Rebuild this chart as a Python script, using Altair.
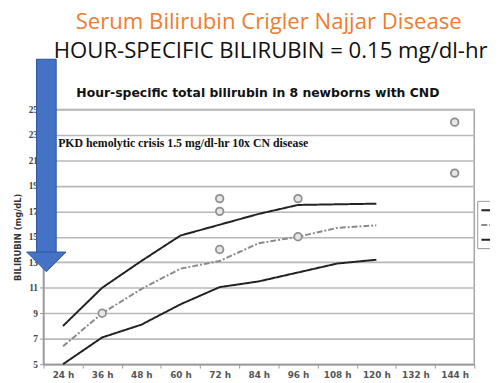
import altair as alt
import pandas as pd

# ---------------- data ----------------
hours = ["24 h", "36 h", "48 h", "60 h", "72 h", "84 h", "96 h", "108 h", "120 h", "132 h", "144 h"]
line_hours = hours[:9]
upper = [8.0, 11.0, 13.1, 15.1, 15.95, 16.8, 17.5, 17.55, 17.6]
middle = [6.4, 9.0, 10.9, 12.5, 13.1, 14.5, 15.0, 15.7, 15.9]
lower = [5.0, 7.1, 8.1, 9.7, 11.05, 11.5, 12.2, 12.9, 13.2]
series_names = ["95th percentile", "50th percentile", "5th percentile"]

obs_hours = ["36 h", "72 h", "72 h", "72 h", "96 h", "96 h", "144 h", "144 h"]
obs_values = [9, 18, 17, 14, 18, 15, 24, 20]

y_ticks = [5, 7, 9, 11, 13, 15, 17, 19, 21, 23, 25]

title_1 = "Serum Bilirubin Crigler Najjar Disease"
title_2 = "HOUR-SPECIFIC BILIRUBIN = 0.15 mg/dl-hr"
chart_title = "Hour-specific total bilirubin in 8 newborns with CND"
note = "PKD hemolytic crisis 1.5 mg/dl-hr 10x CN disease"
y_title = "BILIRUBIN (mg/dL)"

rows = []
for name, vals in zip(series_names, [upper, middle, lower]):
    for h, v in zip(line_hours, vals):
        rows.append({"hour": h, "value": v, "series": name})
lines_df = pd.DataFrame(rows)
obs_df = pd.DataFrame({"hour": obs_hours, "value": obs_values})

W, H = 438, 259

x_enc = alt.X(
    "hour:O",
    sort=hours,
    bandPosition=0.5,
    scale=alt.Scale(domain=hours, type="band", paddingInner=0, paddingOuter=0),
    axis=alt.Axis(
        title=None, labelAngle=0, tickBand="extent", grid=False,
        domainColor="#9a9a9a", domainWidth=1.5, tickColor="#9a9a9a", tickSize=4,
        labelFont="DejaVu Sans", labelFontSize=9, labelColor="#555",
        labelFontWeight="bold", labelPadding=3, labelOverlap=False,
    ),
)
y_scale = alt.Scale(domain=[5, 25], nice=False, zero=False)
y_enc = alt.Y(
    "value:Q",
    scale=y_scale,
    axis=alt.Axis(
        values=y_ticks, tickCount=11, grid=True, gridColor="#b8b8b8", gridWidth=1.6,
        domainColor="#9a9a9a", domainWidth=1.5, tickColor="#9a9a9a", tickSize=4,
        labelFont="Liberation Serif", labelFontSize=9.5, labelColor="#444",
        labelFontWeight="bold", labelPadding=2, labelOverlap=False,
        title=y_title, titleFont="DejaVu Sans", titleFontSize=8.5,
        titleFontWeight="bold", titleColor="#333", titlePadding=6,
    ),
)

legend_cfg = dict(
    title=None, orient="none", legendX=441, legendY=93,
    symbolType="stroke", symbolStrokeWidth=2, symbolSize=110,
    labelFontSize=9, labelExpr="''", rowPadding=3, padding=3,
    strokeColor="#999", fillColor="white",
)

lines = alt.Chart(lines_df).mark_line(strokeWidth=2).encode(
    x=x_enc,
    y=y_enc,
    color=alt.Color(
        "series:N",
        scale=alt.Scale(domain=series_names, range=["#222222", "#8a8a8a", "#222222"]),
        legend=alt.Legend(**legend_cfg),
    ),
    strokeDash=alt.StrokeDash(
        "series:N",
        scale=alt.Scale(domain=series_names, range=[[1, 0], [6, 2, 2, 2], [1, 0]]),
        legend=alt.Legend(**legend_cfg),
    ),
)

points = alt.Chart(obs_df).mark_point(
    shape="circle", size=60, filled=False, stroke="#8f8f8f", strokeWidth=1.8,
    fill="#e6e6e6", fillOpacity=1, opacity=1,
).encode(x=x_enc, y=y_enc)

def label(text, x, y, **kw):
    return alt.Chart(pd.DataFrame({"t": [text]})).mark_text(**kw).encode(
        text="t:N", x=alt.value(x), y=alt.value(y)
    )

t1 = label(title_1, 229, -82, font="Open Sans", fontSize=22.5, color="#ED7D31",
           align="center", baseline="alphabetic")
t2 = label(title_2, 231, -52, font="Open Sans", fontSize=22.5, color="#111111",
           align="center", baseline="alphabetic")
t3 = label(chart_title, 218, -17, font="DejaVu Sans", fontSize=12.6, fontWeight="bold",
           color="#111111", align="center", baseline="middle")
t4 = label(note, 15, 34, font="Liberation Serif", fontSize=12, fontWeight="bold",
           color="#111111", align="left", baseline="middle")

shaft = alt.Chart(pd.DataFrame({"a": [0]})).mark_rect(
    color="#4472C4", stroke="#2F5597", strokeWidth=1
).encode(x=alt.value(-7), x2=alt.value(13), y=alt.value(-51), y2=alt.value(146))

head = alt.Chart(pd.DataFrame({"a": [0]})).mark_point(
    shape="M-1,0L1,0L0,1Z", filled=True, size=1600, color="#4472C4",
    stroke="#2F5597", strokeWidth=1, opacity=1,
).encode(x=alt.value(3), y=alt.value(145))

chart = (
    alt.layer(lines, points, t1, t2, t3, t4, shaft, head)
    .resolve_scale(color="shared")
    .properties(
        width=W, height=H,
        autosize=alt.AutoSizeParams(type="none"),
        padding={"left": 36, "top": 100, "right": 16, "bottom": 14},
        background="white",
    )
    .configure_view(stroke="#a8a8a8", strokeWidth=1.6)
    .configure_axis(zindex=0)
)

chart.save("out.html", embed_options={"renderer": "svg", "actions": False})
